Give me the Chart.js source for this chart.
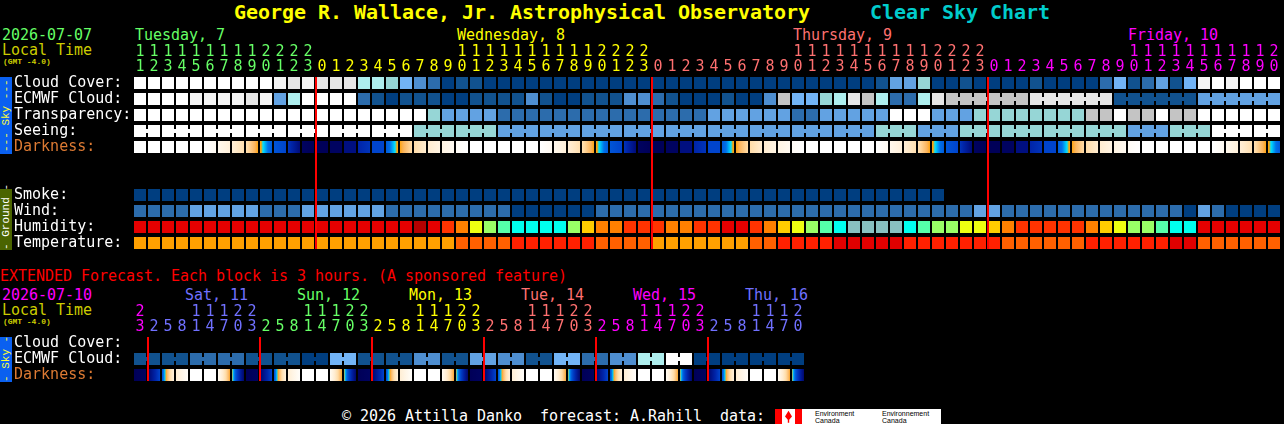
<!DOCTYPE html>
<html>
<head>
<meta charset="utf-8">
<title>Clear Sky Chart</title>
<script src="https://cdn.jsdelivr.net/npm/chart.js@4"></script>
<style>
  html, body { margin: 0; padding: 0; background: #000; width: 1284px; height: 424px; overflow: hidden; }
  canvas { position: absolute; left: 0; }
  .t { position: absolute; white-space: pre; font: 15px/15px "DejaVu Sans Mono", monospace; letter-spacing: -0.03px; }
  .title { font: bold 20px/20px "DejaVu Sans Mono", monospace; letter-spacing: -0.04px; }
  .gmt { font: bold 8px/8px "Liberation Mono", monospace; color: #cccc00; }
  .strip { position: absolute; left: 0; width: 12px; writing-mode: vertical-rl; transform: rotate(180deg);
           text-align: center; font: 11px/12px "Liberation Mono", monospace; white-space: pre; }
  .sky { background: #0a60f0; color: #ffff33; }
  .ground { background: #4a6400; color: #ffffff; }
  #logo { position: absolute; left: 775px; top: 409px; width: 166px; height: 15px; background: #fff; overflow: hidden; }
  #logo i { position: absolute; top: 0; height: 15px; background: #f00; }
  #logo b { position: absolute; top: 0; font: 7px/7px "Liberation Sans", sans-serif; color: #000; white-space: pre; padding-top: 1px; }
</style>
</head>
<body>
<div class="t title" style="left:234px;top:2px;color:#ffff00">George R. Wallace, Jr. Astrophysical Observatory</div>
<div class="t title" style="left:870px;top:2px;color:#00cccc">Clear Sky Chart</div>

<div class="t" style="left:2px;top:28px;color:#66ff66">2026-07-07</div>
<div class="t" style="left:2px;top:43px;color:#cccc00">Local Time</div>
<div class="t gmt" style="left:3px;top:58px">(GMT -4.0)</div>
<div class="t" style="left:135px;top:28px;color:#66ff66">Tuesday, 7</div>
<div class="t" style="left:457px;top:28px;color:#ffff00">Wednesday, 8</div>
<div class="t" style="left:793px;top:28px;color:#ff7070">Thursday, 9</div>
<div class="t" style="left:1128px;top:28px;color:#ff00ff">Friday, 10</div>

<div class="strip sky" style="top:77px;height:77px">--- Sky ---</div>
<div class="strip ground" style="top:189px;height:61px">- Ground -</div>
<canvas id="hourlyChart" width="1281" height="221" style="top:30px"></canvas>

<div class="t" style="left:0;top:269px;color:#ff0000">EXTENDED Forecast. Each block is 3 hours. (A sponsored feature)</div>
<div class="t" style="left:2px;top:288px;color:#ff00ff">2026-07-10</div>
<div class="t" style="left:2px;top:303px;color:#cccc00">Local Time</div>
<div class="t gmt" style="left:3px;top:318px">(GMT -4.0)</div>
<div class="t" style="left:185px;top:288px;color:#7070ff">Sat, 11</div>
<div class="t" style="left:297px;top:288px;color:#66ff66">Sun, 12</div>
<div class="t" style="left:409px;top:288px;color:#ffff00">Mon, 13</div>
<div class="t" style="left:521px;top:288px;color:#ff7070">Tue, 14</div>
<div class="t" style="left:633px;top:288px;color:#ff00ff">Wed, 15</div>
<div class="t" style="left:745px;top:288px;color:#7070ff">Thu, 16</div>

<div class="strip sky" style="top:337px;height:45px">- Sky -</div>
<canvas id="extendedChart" width="805" height="103" style="top:280px"></canvas>

<div class="t" style="left:342px;top:409px;color:#ffffff">© 2026 Attilla Danko  forecast: A.Rahill  data:</div>
<div id="logo">
  <i style="left:0;width:7px"></i><i style="left:20px;width:7px"></i>
  <i style="left:10px;width:7px;clip-path:polygon(50% 12%,100% 50%,60% 72%,60% 92%,40% 92%,40% 72%,0 50%)"></i>
  <b style="left:40px">Environment
Canada</b>
  <b style="left:107px">Environnement
Canada</b>
</div>

<script>
// ====== Hourly forecast data (82 hours) ======
const hourLabels = [11,12,13,14,15,16,17,18,19,20,21,22,23,0,1,2,3,4,5,6,7,8,9,10,11,12,13,14,15,16,17,18,19,20,21,22,23,0,1,2,3,4,5,6,7,8,9,10,11,12,13,14,15,16,17,18,19,20,21,22,23,0,1,2,3,4,5,6,7,8,9,10,11,12,13,14,15,16,17,18,19,20];
const hourDays = [0,0,0,0,0,0,0,0,0,0,0,0,0,1,1,1,1,1,1,1,1,1,1,1,1,1,1,1,1,1,1,1,1,1,1,1,1,2,2,2,2,2,2,2,2,2,2,2,2,2,2,2,2,2,2,2,2,2,2,2,2,3,3,3,3,3,3,3,3,3,3,3,3,3,3,3,3,3,3,3,3,3];
const rowLabels = ["Cloud Cover:","ECMWF Cloud:","Transparency:","Seeing:","Darkness:","","","Smoke:","Wind:","Humidity:","Temperature:"];

const cloudCover = [100,100,100,100,100,100,100,100,100,100,90,80,90,80,80,80,70,70,60,50,30,20,0,10,10,0,0,0,0,0,0,0,0,0,0,0,0,0,0,0,0,0,0,0,0,0,0,0,0,0,0,0,0,10,40,40,60,0,0,10,0,0,0,0,10,0,0,0,0,20,50,10,20,40,10,50,90,100,90,100,100,100];
const ecmwfCloud = [100,100,100,100,90,90,90,90,80,90,40,70,100,100,100,100,20,10,0,10,10,10,0,0,10,10,10,10,30,10,0,0,10,10,10,30,30,20,10,0,0,0,10,0,0,30,75,50,50,60,70,80,75,70,20,20,70,80,75,75,75,75,75,75,80,80,80,80,80,80,10,10,10,10,10,10,40,40,40,40,40,40];
const transparency = [100,100,100,100,100,100,100,100,100,100,100,100,100,100,100,100,100,100,100,100,100,60,40,40,40,40,20,20,20,20,20,20,20,20,20,20,20,20,20,20,20,40,40,40,40,40,40,20,20,40,40,40,40,40,100,100,100,40,40,40,60,60,60,60,60,60,60,60,75,75,100,75,75,100,75,75,100,100,100,100,100,100];
const seeing = [100,100,100,100,100,100,100,100,100,100,100,100,100,100,100,100,100,100,100,100,60,60,60,60,60,60,40,40,40,40,40,40,40,40,40,40,40,40,40,40,40,40,40,40,40,40,40,40,40,40,40,40,40,60,60,60,40,40,40,60,60,60,60,60,60,60,60,60,60,60,60,40,40,40,60,60,60,100,100,100,100,100];
const smoke = [0,0,0,0,0,0,0,0,0,0,0,0,0,0,0,0,0,0,0,0,0,0,0,0,0,0,0,0,0,0,0,0,0,0,0,0,0,0,0,0,0,0,0,0,0,0,0,0,0,0,0,0,0,0,0,0,0,0];
const wind = [20,20,20,20,40,40,40,40,40,20,20,20,40,40,40,40,40,40,20,20,20,20,20,20,20,20,20,0,0,0,0,0,0,20,20,20,20,20,20,20,20,20,20,20,20,20,20,20,20,20,20,20,20,20,20,20,20,20,20,20,40,40,20,20,20,20,20,20,20,20,20,20,20,20,20,0,40,20,0,0,0,0];
const humidity = [85,85,85,85,85,85,85,85,85,85,85,85,85,85,85,85,85,85,85,85,95,85,70,60,50,40,35,30,30,30,30,40,55,60,60,70,70,70,60,60,70,70,85,85,70,60,55,50,40,35,30,25,25,25,25,30,35,40,40,50,50,55,60,70,70,70,70,70,60,55,50,40,40,35,30,30,85,85,85,85,85,85];
const temperature = [24,24,24,24,24,24,24,24,24,24,24,24,24,24,24,24,24,24,24,24,24,24,24,27,27,27,27,30,30,30,30,30,30,27,27,27,27,24,24,24,24,24,24,24,27,27,30,30,30,30,33,33,33,33,33,30,30,30,30,30,30,30,27,27,27,27,27,27,30,30,30,30,30,30,33,33,27,27,27,27,27,27];

// darkness of each block at its left and right edge, 0 is daylight and 9 is full night
const darknessFrom = [0,0,0,0,0,0,0.8,1.8,2.8,4.4,5.7,6.5,8.8,9,8.8,8,7,6,5.6,4.4,3,2,1.2,0.4,0,0,0,0,0,0,0.8,1.8,2.8,4.4,5.7,6.5,8.8,9,8.8,8,7,6,5.6,4.4,3,2,1.2,0.4,0,0,0,0,0,0,0.8,1.8,2.8,4.4,5.7,6.5,8.8,9,8.8,8,7,6,5.6,4.4,3,2,1.2,0.4,0,0,0,0,0,0,0.8,1.8,2.8,4.4];
const darknessTo = [0,0,0,0,0,0.6,1.6,2.8,4.4,5.6,6,8.2,9,9,8.8,8,6.5,6,4.4,3,2,1.2,0.6,0,0,0,0,0,0,0.6,1.6,2.8,4.4,5.6,6,8.2,9,9,8.8,8,6.5,6,4.4,3,2,1.2,0.6,0,0,0,0,0,0,0.6,1.6,2.8,4.4,5.6,6,8.2,9,9,8.8,8,6.5,6,4.4,3,2,1.2,0.6,0,0,0,0,0,0,0.6,1.6,2.8,4.4,5.6];

const seeingGroupStarts = [0,2,5,8,11,14,17,20,23,26,29,32,35,38,41,44,47,50,53,56,59,62,65,68,71,74,77,80];
const ecmwfGroupStarts = [58,64,70,76];
const midnightHours = [12+4/7, 36+4/7, 60+4/7];

// ====== Extended forecast data (48 blocks of 3 hours) ======
const blockLabels = [23,2,5,8,11,14,17,20,23,2,5,8,11,14,17,20,23,2,5,8,11,14,17,20,23,2,5,8,11,14,17,20,23,2,5,8,11,14,17,20,23,2,5,8,11,14,17,20];
const blockDays = [3,4,4,4,4,4,4,4,4,0,0,0,0,0,0,0,0,1,1,1,1,1,1,1,1,2,2,2,2,2,2,2,2,3,3,3,3,3,3,3,3,4,4,4,4,4,4,4];
const extendedRowLabels = ["Cloud Cover:","ECMWF Cloud:","Darkness:"];
const extendedCloud = [10,10,10,10,20,20,20,20,10,10,10,10,0,0,50,50,10,10,10,10,30,30,10,10,40,40,30,30,10,10,50,50,20,20,30,30,70,70,100,100,0,0,0,0,0,0,0,0];
const extendedFrom = [9,8.5,5.8,1.8,0,0,0.5,4.4,9,8.5,5.8,1.8,0,0,0.5,4.4,9,8.5,5.8,1.8,0,0,0.5,4.4,9,8.5,5.8,1.8,0,0,0.5,4.4,9,8.5,5.8,1.8,0,0,0.5,4.4,9,8.5,5.8,1.8,0,0,0.5,4.4];
const extendedTo = [8.8,6,1.5,0.2,0,0,4.3,8.5,8.8,6,1.5,0.2,0,0,4.3,8.5,8.8,6,1.5,0.2,0,0,4.3,8.5,8.8,6,1.5,0.2,0,0,4.3,8.5,8.8,6,1.5,0.2,0,0,4.3,8.5,8.8,6,1.5,0.2,0,0,4.3,8.5];
const extendedGroupStarts = [0,2,4,6,8,10,12,14,16,18,20,22,24,26,28,30,32,34,36,38,40,42,44,46];
const extendedMidnights = [4/7, 8+4/7, 16+4/7, 24+4/7, 32+4/7, 40+4/7];

// ====== Colours ======
const dayColors = ["#66ff66", "#ffff00", "#ff7070", "#ff00ff", "#7070ff"];
const skyColors = {
  0: "#003e80", 10: "#11528f", 20: "#2c6cac", 30: "#4e8ed0", 40: "#62a2e2", 50: "#72b4f6",
  60: "#96d6d6", 70: "#aeeeee", 75: "#c4c4c4", 80: "#e6e6e6", 90: "#f4f4f4", 100: "#ffffff"
};
const humidityColors = {
  25: "#88c0c0", 30: "#00ffee", 35: "#55ffaa", 40: "#99ff66", 50: "#eeff11", 55: "#ffcc00",
  60: "#ff8000", 70: "#ff3300", 85: "#e60000", 95: "#b40000"
};
const temperatureColors = { 24: "#ffa000", 27: "#ff6000", 30: "#ff2000", 33: "#e00000" };
const darknessRamp = [
  [0, "#ffffff"], [1, "#fff6e8"], [2, "#ffecd0"], [3, "#ffdca8"], [4, "#fbb45c"], [4.5, "#ffa000"],
  [4.7, "#00e0ff"], [5.2, "#0070e8"], [6, "#0044cc"], [7, "#0024a8"], [8, "#000f80"], [9, "#000058"]
];

// ====== Helpers ======
function darknessColor(level) {
  for (let i = 1; i < darknessRamp.length; i++) {
    const [l0, c0] = darknessRamp[i - 1];
    const [l1, c1] = darknessRamp[i];
    if (level <= l1) {
      const t = (level - l0) / (l1 - l0);
      const mix = [1, 3, 5].map(p => {
        const a = parseInt(c0.substr(p, 2), 16);
        const b = parseInt(c1.substr(p, 2), 16);
        return Math.round(a + (b - a) * t);
      });
      return `rgb(${mix.join(",")})`;
    }
  }
  return darknessRamp[darknessRamp.length - 1][1];
}

// one floating bar per block
function cellDataset(row, values, colors) {
  return {
    data: values.map((v, i) => ({ x: i, y: [row - 0.375, row + 0.375] })),
    backgroundColor: values.map(v => colors[v]),
    maxBarThickness: 12, order: 2
  };
}

// darkness blocks shade from their left edge to their right edge
function darknessDataset(row, from, to) {
  return {
    data: from.map((v, i) => ({ x: i, y: [row - 0.375, row + 0.375] })),
    backgroundColor: c => {
      if (c.dataIndex === undefined) return "#000";
      const px = c.chart.scales.x.getPixelForValue(c.dataIndex);
      if (!Number.isFinite(px)) return "#000"; // scale not laid out yet
      const grad = c.chart.ctx.createLinearGradient(px - 6, 0, px + 6, 0);
      for (let s = 0; s <= 12; s++) {
        grad.addColorStop(s / 12, darknessColor(from[c.dataIndex] + (to[c.dataIndex] - from[c.dataIndex]) * s / 12));
      }
      return grad;
    },
    maxBarThickness: 12, order: 2
  };
}

// the small necks joining blocks that share one forecast step
function neckDataset(row, values, colors, groupStarts) {
  const points = [];
  groupStarts.forEach((start, g) => {
    const end = g + 1 < groupStarts.length ? groupStarts[g + 1] : values.length;
    for (let i = start; i < end - 1; i++) points.push({ x: i + 0.5, y: [row - 0.125, row + 0.125], c: colors[values[i]] });
  });
  return {
    data: points,
    backgroundColor: points.map(p => p.c),
    maxBarThickness: 2, order: 2
  };
}

function midnightDatasets(hours, top, bottom) {
  return hours.map(h => ({
    type: "line",
    data: [{ x: h, y: top }, { x: h, y: bottom }],
    borderColor: "#ff0000", borderWidth: 2, pointRadius: 0, borderCapStyle: "butt", order: 1
  }));
}

function drawChart(id, datasets, labels, days, rows, axisHeight) {
  const lastBlock = labels.length - 1;
  new Chart(document.getElementById(id), {
    type: "bar",
    data: { datasets },
    options: {
      responsive: false,
      animation: false,
      devicePixelRatio: 1,
      layout: { padding: { left: 14 } },
      datasets: { bar: { grouped: false, barPercentage: 3, categoryPercentage: 1, borderWidth: 0, inflateAmount: 0 } },
      plugins: { legend: { display: false }, tooltip: { enabled: false }, title: { display: false } },
      scales: {
        x: {
          type: "linear", position: "top", offset: false, min: -0.5, max: lastBlock + 0.5,
          grid: { display: false, drawTicks: false }, border: { display: false },
          afterFit: s => { s.height = axisHeight; s.paddingLeft = 0; s.paddingRight = 0; },
          afterBuildTicks: s => { s.ticks = labels.map((l, i) => ({ value: i })); },
          ticks: {
            autoSkip: false, maxRotation: 0, minRotation: 0, padding: 0,
            font: { family: "'DejaVu Sans Mono', monospace", size: 15, lineHeight: "15px" },
            color: c => dayColors[days[c.tick.value]],
            callback: v => [labels[v] >= 10 ? String(labels[v])[0] : "", String(labels[v] % 10)]
          }
        },
        y: {
          type: "linear", reverse: true, min: -0.5, max: rows.length - 0.5,
          grid: { display: false, drawTicks: false }, border: { display: false },
          afterFit: s => { s.width = 119; s.paddingTop = 0; s.paddingBottom = 0; },
          afterBuildTicks: s => { s.ticks = rows.map((r, i) => ({ value: i })); },
          ticks: {
            autoSkip: false, crossAlign: "far", padding: 0,
            font: { family: "'DejaVu Sans Mono', monospace", size: 15 },
            color: c => rows[c.tick.value] === "Darkness:" ? "#dd7a33" : "#ffffff",
            callback: v => rows[v]
          }
        }
      }
    }
  });
}

// ====== Hourly Chart ======
drawChart("hourlyChart", [
  cellDataset(0, cloudCover, skyColors),
  cellDataset(1, ecmwfCloud, skyColors),
  neckDataset(1, ecmwfCloud, skyColors, ecmwfGroupStarts),
  cellDataset(2, transparency, skyColors),
  cellDataset(3, seeing, skyColors),
  neckDataset(3, seeing, skyColors, seeingGroupStarts),
  darknessDataset(4, darknessFrom, darknessTo),
  cellDataset(7, smoke, skyColors),
  cellDataset(8, wind, skyColors),
  cellDataset(9, humidity, humidityColors),
  cellDataset(10, temperature, temperatureColors),
  ...midnightDatasets(midnightHours, -0.375, 10.375)
], hourLabels, hourDays, rowLabels, 45);

// ====== Extended Chart ======
drawChart("extendedChart", [
  cellDataset(1, extendedCloud, skyColors),
  neckDataset(1, extendedCloud, skyColors, extendedGroupStarts),
  darknessDataset(2, extendedFrom, extendedTo),
  ...midnightDatasets(extendedMidnights, -0.375, 2.375)
], blockLabels, blockDays, extendedRowLabels, 55);
</script>
</body>
</html>
